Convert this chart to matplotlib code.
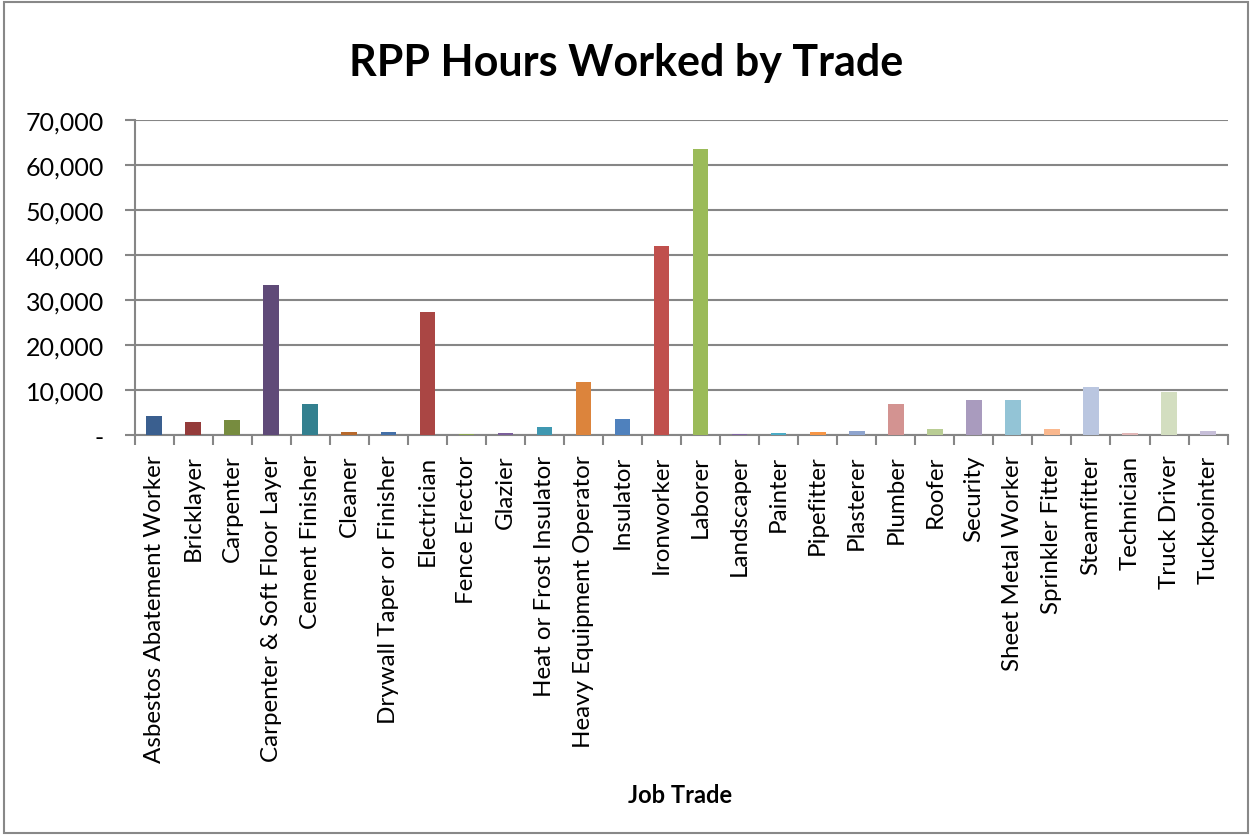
import matplotlib.pyplot as plt
from matplotlib.ticker import FuncFormatter, FixedLocator
from matplotlib.patches import Rectangle

trades = ["Asbestos Abatement Worker", "Bricklayer", "Carpenter",
          "Carpenter & Soft Floor Layer", "Cement Finisher", "Cleaner",
          "Drywall Taper or Finisher", "Electrician", "Fence Erector", "Glazier",
          "Heat or Frost Insulator", "Heavy Equipment Operator", "Insulator",
          "Ironworker", "Laborer", "Landscaper", "Painter", "Pipefitter",
          "Plasterer", "Plumber", "Roofer", "Security", "Sheet Metal Worker",
          "Sprinkler Fitter", "Steamfitter", "Technician", "Truck Driver",
          "Tuckpointer"]
hours = [4200, 2800, 3300, 33300, 7000, 600, 600, 27300, 150, 380,
         1700, 11700, 3500, 42000, 63600, 150, 380, 600, 830, 6800,
         1270, 7700, 7700, 1270, 10600, 380, 9500, 830]
colors = ["#3A5F8F", "#943B3A", "#778C3F", "#5F4A78", "#33808F", "#B8692C",
          "#4470A8", "#AA4644", "#8BA552", "#7A5E9A", "#3F98B1", "#DC843C",
          "#4F81BD", "#C0504D", "#9BBB59", "#8064A2", "#4BACC6", "#F79646",
          "#8EA4CE", "#D39391", "#B9CD94", "#A99BBE", "#93C4D6", "#FAB88E",
          "#BAC6E0", "#E1B6B6", "#D3DEC0", "#C6BED8"]

plt.rcParams['font.family'] = ['Lato', 'DejaVu Sans']
GRID = "#868686"

fig = plt.figure(figsize=(12.52, 8.37), dpi=100)
fig.patches.append(Rectangle((0.003, 0.003), 0.994, 0.994, transform=fig.transFigure,
                             fill=False, edgecolor="#888888", lw=1.5))
ax = fig.add_axes([0.1075, 0.479, 0.873, 0.3764])

x = range(len(trades))
ax.bar(x, hours, width=0.4, color=colors, zorder=3)

ax.set_xlim(-0.5, len(trades) - 0.5)
ax.set_ylim(0, 70000)
ax.set_yticks(range(0, 70001, 10000))
ax.yaxis.set_major_formatter(FuncFormatter(lambda v, p: "-" if v == 0 else f"{int(v):,}"))
ax.grid(axis="y", color=GRID, lw=1.5, zorder=0)

# category boundaries get the tick marks, names sit between them
ax.xaxis.set_major_locator(FixedLocator([i - 0.5 for i in range(len(trades) + 1)]))
ax.xaxis.set_major_formatter(FuncFormatter(lambda v, p: ""))
ax.set_xticks(list(x), minor=True)
ax.set_xticklabels(trades, minor=True, rotation=90, fontsize=17.4)
ax.tick_params(axis="x", which="minor", length=0, pad=14)
ax.tick_params(axis="x", which="major", length=7, width=1.5, color=GRID)
ax.tick_params(axis="y", length=7, width=1.5, color=GRID, labelsize=18, pad=15)

for s in ["top", "right"]:
    ax.spines[s].set_visible(False)
for s in ["left", "bottom"]:
    ax.spines[s].set_color(GRID)
    ax.spines[s].set_linewidth(1.5)

fig.text(0.5, 0.925, "RPP Hours Worked by Trade", ha="center", va="center",
         fontsize=31, fontweight="bold")
fig.text(0.543, 0.05, "Job Trade", ha="center", va="center",
         fontsize=17, fontweight="bold")

fig.savefig("out.png", dpi=100)
